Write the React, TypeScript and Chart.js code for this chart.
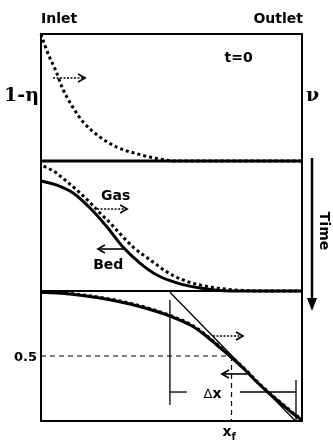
import React, { useEffect, useRef } from "react";
import { Chart, registerables } from "chart.js";

Chart.register(...registerables);

// Axial position along the bed: 0 = inlet, 1 = outlet
// Panel 1 (t = 0)
const topGasPos = [0, 0.015, 0.03, 0.055, 0.085, 0.12, 0.16, 0.225, 0.29, 0.38, 0.455, 0.515, 1];
const topGasVal = [1, 0.91, 0.83, 0.72, 0.56, 0.43, 0.31, 0.19, 0.11, 0.05, 0.015, 0, 0];
const topBedPos = [0, 1];
const topBedVal = [0, 0];
// Panel 2
const midGasPos = [0.01, 0.054, 0.1, 0.149, 0.188, 0.226, 0.264, 0.303, 0.352, 0.418, 0.483, 0.544, 0.609, 0.674, 0.743, 0.84, 1];
const midGasVal = [0.96, 0.915, 0.84, 0.755, 0.68, 0.6, 0.525, 0.44, 0.34, 0.24, 0.146, 0.085, 0.046, 0.023, 0.008, 0, 0];
const midBedPos = [0, 0.061, 0.123, 0.188, 0.253, 0.314, 0.379, 0.444, 0.521, 0.609, 0.724, 1];
const midBedVal = [0.846, 0.815, 0.754, 0.638, 0.492, 0.338, 0.215, 0.123, 0.062, 0.023, 0, 0];
// Panel 3
const botPos = [0, 0.111, 0.226, 0.341, 0.437, 0.513, 0.579, 0.628, 0.678, 0.728, 0.782, 0.831, 0.881, 0.931, 0.977, 1];
const botGasVal = [0.994, 0.981, 0.951, 0.906, 0.852, 0.798, 0.737, 0.668, 0.583, 0.498, 0.398, 0.298, 0.206, 0.121, 0.044, 0.014];
const botBedVal = [0.99, 0.977, 0.946, 0.9, 0.846, 0.792, 0.731, 0.662, 0.577, 0.492, 0.392, 0.292, 0.2, 0.115, 0.038, 0.008];
// Tangent at the front
const tangentPos = [0.494, 0.975];
const tangentVal = [0.99, 0];
// Front position and width
const halfLevel = 0.5;
const frontPos = 0.73;
const deltaPos = [0.494, 0.977];
const deltaGap = [0.559, 0.762];
const deltaLevel = 0.223;
const deltaLeftSpan = [0.123, 0.931];
const deltaRightSpan = [0, 0.315];
// Direction arrows [from, to, level]
const topGasArrow = [0.046, 0.169, 0.654];
const midGasArrow = [0.215, 0.33, 0.631];
const midBedArrow = [0.322, 0.218, 0.323];
const botGasArrow = [0.659, 0.774, 0.654];
const botBedArrow = [0.793, 0.693, 0.362];

const pts = (xs: number[], ys: number[]) => xs.map((x, i) => ({ x, y: ys[i] }));

function drawArrow(ctx: CanvasRenderingContext2D, x1: number, x2: number, y: number, dotted: boolean) {
  ctx.save();
  ctx.strokeStyle = "#000";
  ctx.lineWidth = 1.6;
  ctx.setLineDash(dotted ? [2, 1.5] : []);
  ctx.beginPath();
  ctx.moveTo(x1, y);
  ctx.lineTo(x2, y);
  ctx.stroke();
  ctx.setLineDash([]);
  const dir = Math.sign(x2 - x1);
  ctx.beginPath();
  ctx.moveTo(x2 - dir * 7, y - 4);
  ctx.lineTo(x2, y);
  ctx.lineTo(x2 - dir * 7, y + 4);
  ctx.stroke();
  ctx.restore();
}

const annotations = {
  id: "annotations",
  afterDatasetsDraw(chart: any) {
    const { ctx, scales } = chart;
    const x = scales.x;
    const yTop = scales.yTop, yMid = scales.yMid, yBot = scales.yBot;
    ctx.save();
    ctx.strokeStyle = "#000";
    ctx.lineWidth = 2;
    for (const s of [yTop, yMid, yBot]) {
      ctx.strokeRect(x.left, s.top, x.right - x.left, s.bottom - s.top);
    }
    // arrows
    const arr = (a: number[], s: any, dotted: boolean) =>
      drawArrow(ctx, x.getPixelForValue(a[0]), x.getPixelForValue(a[1]), s.getPixelForValue(a[2]), dotted);
    arr(topGasArrow, yTop, true);
    arr(midGasArrow, yMid, true);
    arr(midBedArrow, yMid, false);
    arr(botGasArrow, yBot, true);
    arr(botBedArrow, yBot, false);

    // Time arrow
    const tx = x.right + 10;
    ctx.lineWidth = 2.5;
    ctx.beginPath();
    ctx.moveTo(tx, yMid.top - 3);
    ctx.lineTo(tx, yBot.top + 8);
    ctx.stroke();
    ctx.fillStyle = "#000";
    ctx.beginPath();
    ctx.moveTo(tx - 5, yBot.top + 7);
    ctx.lineTo(tx + 5, yBot.top + 7);
    ctx.lineTo(tx, yBot.top + 20);
    ctx.closePath();
    ctx.fill();

    // Texts
    ctx.fillStyle = "#000";
    ctx.textBaseline = "alphabetic";
    ctx.font = "bold 14px 'DejaVu Sans'";
    ctx.textAlign = "left";
    ctx.fillText("Inlet", x.left, yTop.top - 11);
    ctx.textAlign = "right";
    ctx.fillText("Outlet", x.right + 1, yTop.top - 11);
    ctx.textAlign = "left";
    ctx.fillText("t=0", x.getPixelForValue(0.703), yTop.top + 28);
    ctx.fillText("Gas", x.getPixelForValue(0.23), yMid.top + 39);
    ctx.fillText("Bed", x.getPixelForValue(0.2), yMid.top + 108);
    ctx.font = "bold 13px 'DejaVu Sans'";
    ctx.textAlign = "right";
    ctx.fillText("0.5", x.left - 4, yBot.getPixelForValue(halfLevel) + 5);
    // Δx
    ctx.font = "13px 'DejaVu Sans'";
    const dx = x.getPixelForValue((deltaGap[0] + deltaGap[1]) / 2);
    const dy = yBot.getPixelForValue(deltaLevel) + 6;
    ctx.textAlign = "right";
    ctx.fillText("\u0394", dx - 1, dy);
    ctx.font = "bold 14px 'DejaVu Sans'";
    ctx.textAlign = "left";
    ctx.fillText("x", dx - 1, dy);
    // x_f
    const fx = x.getPixelForValue(frontPos);
    ctx.font = "bold 14px 'DejaVu Sans'";
    ctx.textAlign = "right";
    ctx.fillText("x", fx, yBot.bottom + 15);
    ctx.font = "bold 10px 'DejaVu Sans'";
    ctx.textAlign = "left";
    ctx.fillText("f", fx, yBot.bottom + 19);
    // 1-η and ν
    ctx.font = "bold 19px 'DejaVu Serif'";
    ctx.textAlign = "right";
    ctx.fillText("1-\u03B7", x.left - 2, yTop.top + 67);
    ctx.textAlign = "left";
    ctx.fillText("\u03BD", x.right + 4, yTop.top + 67);
    // Time
    ctx.save();
    ctx.font = "bold 14px 'DejaVu Sans'";
    ctx.translate(x.right + 22, (yMid.top + yMid.bottom) / 2 + 5);
    ctx.rotate(Math.PI / 2);
    ctx.textAlign = "center";
    ctx.textBaseline = "middle";
    ctx.fillText("Time", 0, 0);
    ctx.restore();
    ctx.restore();
  },
};

export default function App() {
  const ref = useRef<HTMLCanvasElement>(null);
  useEffect(() => {
    if (!ref.current) return;
    const solid = { borderColor: "#000", borderWidth: 3, pointRadius: 0, cubicInterpolationMode: "monotone", clip: false, fill: false };
    const dotted = { ...solid, borderDash: [3, 3] };
    const thin = { borderColor: "#000", borderWidth: 1.3, pointRadius: 0, tension: 0, clip: false, fill: false };
    const dashed = { ...thin, borderWidth: 1.2, borderDash: [5, 4] };
    const chart = new Chart(ref.current, {
      type: "line",
      data: {
        datasets: [
          { ...solid, data: pts(topBedPos, topBedVal), yAxisID: "yTop" },
          { ...dotted, data: pts(topGasPos, topGasVal), yAxisID: "yTop" },
          { ...solid, data: pts(midBedPos, midBedVal), yAxisID: "yMid" },
          { ...dotted, data: pts(midGasPos, midGasVal), yAxisID: "yMid" },
          { ...solid, data: pts(botPos, botBedVal), yAxisID: "yBot" },
          { ...dotted, data: pts(botPos, botGasVal), yAxisID: "yBot" },
          { ...thin, data: pts(tangentPos, tangentVal), yAxisID: "yBot" },
          { ...thin, data: pts([deltaPos[0], deltaPos[0]], deltaLeftSpan), yAxisID: "yBot" },
          { ...thin, data: pts([deltaPos[1], deltaPos[1]], deltaRightSpan), yAxisID: "yBot" },
          { ...thin, data: pts([deltaPos[0], deltaGap[0]], [deltaLevel, deltaLevel]), yAxisID: "yBot" },
          { ...thin, data: pts([deltaGap[1], deltaPos[1]], [deltaLevel, deltaLevel]), yAxisID: "yBot" },
          { ...dashed, data: pts([0, frontPos - 0.01], [halfLevel, halfLevel]), yAxisID: "yBot" },
          { ...dashed, data: pts([frontPos, frontPos], [halfLevel, 0]), yAxisID: "yBot" },
        ] as any,
      },
      options: {
        animation: false,
        responsive: false,
        devicePixelRatio: 1,
        layout: { padding: { left: 41, right: 31, top: 34, bottom: 20 } },
        plugins: { legend: { display: false }, tooltip: { enabled: false } },
        scales: {
          x: { type: "linear", min: 0, max: 1, display: false },
          yBot: { type: "linear", min: 0, max: 1, display: false, position: "left", stack: "panels", stackWeight: 130 },
          yMid: { type: "linear", min: 0, max: 1, display: false, position: "left", stack: "panels", stackWeight: 130 },
          yTop: { type: "linear", min: 0, max: 1, display: false, position: "left", stack: "panels", stackWeight: 127 },
        },
      } as any,
      plugins: [annotations],
    });
    return () => chart.destroy();
  }, []);
  return (
    <div style={{ position: "fixed", left: 0, top: 0, width: 333, height: 441, background: "#fff" }}>
      <canvas ref={ref} width={333} height={441} />
    </div>
  );
}
